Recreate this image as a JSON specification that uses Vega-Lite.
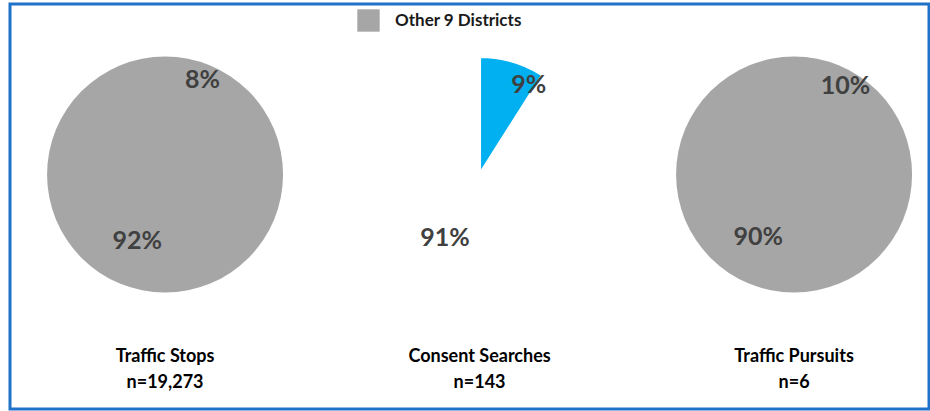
{
  "$schema": "https://vega.github.io/schema/vega-lite/v6.json",
  "width": 919,
  "height": 405,
  "autosize": {"type": "none"},
  "padding": {"left": 10, "top": 4, "right": 1, "bottom": 2},
  "background": "white",
  "config": {
    "view": {"stroke": "#1e72c8", "strokeWidth": 3},
    "font": "Lato"
  },
  "datasets": {
    "others": [
      {"panel": 1, "cat": "Other 9 Districts", "share": 92},
      {"panel": 2, "cat": "Other 9 Districts", "share": 91},
      {"panel": 3, "cat": "Other 9 Districts", "share": 90}
    ],
    "focus": [
      {"panel": 1, "cat": "Traffic Stops", "start": 0, "share": 8},
      {"panel": 2, "cat": "Consent Searches", "start": 0, "share": 9},
      {"panel": 3, "cat": "Traffic Pursuits", "start": 0, "share": 10}
    ],
    "small": [
      {"panel": 1, "label": "8%", "angle": 6.0},
      {"panel": 2, "label": "9%", "angle": 8.0},
      {"panel": 3, "label": "10%", "angle": 8.4}
    ],
    "big": [
      {"panel": 1, "label": "92%", "angle": 56.3},
      {"panel": 2, "label": "91%", "angle": 58.0},
      {"panel": 3, "label": "90%", "angle": 58.3}
    ],
    "titles": [
      {"panel": 1, "title": ["Traffic Stops", "n=19,273"]},
      {"panel": 2, "title": ["Consent Searches", "n=143"]},
      {"panel": 3, "title": ["Traffic Pursuits", "n=6"]}
    ]
  },
  "encoding": {
    "x": {"field": "panel", "type": "quantitative", "scale": {"domain": [0.507, 3.429], "nice": false, "zero": false}, "axis": null},
    "y": {"datum": 0, "type": "quantitative", "scale": {"domain": [-1.375, 1], "nice": false, "zero": false}, "axis": null}
  },
  "layer": [
    {
      "data": {"name": "others"},
      "mark": {"type": "arc", "outerRadius": 118},
      "encoding": {
        "color": {
          "field": "cat", "type": "nominal",
          "scale": {"domain": ["Other 9 Districts", "Traffic Stops", "Consent Searches", "Traffic Pursuits"], "range": ["#a6a6a6", "#ffff00", "#00b0f0", "#ae7cdc"]},
          "legend": {
            "values": ["Other 9 Districts"], "title": null, "orient": "none", "legendX": 347, "legendY": 5,
            "padding": 0, "symbolType": "square", "symbolSize": 500, "symbolStrokeWidth": 0, "symbolOpacity": 1,
            "labelFont": "Lato", "labelFontWeight": "bold", "labelFontSize": 17, "labelColor": "#1a1a1a", "labelOffset": 15
          }
        }
      }
    },
    {
      "data": {"name": "focus"},
      "mark": {"type": "arc", "outerRadius": 118, "stroke": "white", "strokeWidth": 3},
      "encoding": {
        "theta": {"field": "start", "type": "quantitative", "stack": null, "scale": {"domain": [0, 100], "range": [0, 6.283185307]}},
        "theta2": {"field": "share"},
        "color": {"field": "cat", "type": "nominal"}
      }
    },
    {
      "data": {"name": "small"},
      "mark": {"type": "text", "radius": 102, "fontSize": 25, "fontWeight": "bold", "color": "#404040", "align": "center", "baseline": "middle"},
      "encoding": {
        "theta": {"field": "angle", "type": "quantitative", "stack": null},
        "text": {"field": "label"}
      }
    },
    {
      "data": {"name": "big"},
      "mark": {"type": "text", "radius": 72, "fontSize": 25, "fontWeight": "bold", "color": "#404040", "align": "center", "baseline": "middle"},
      "encoding": {
        "theta": {"field": "angle", "type": "quantitative", "stack": null},
        "text": {"field": "label"}
      }
    },
    {
      "data": {"name": "titles"},
      "mark": {"type": "text", "fontSize": 18, "fontWeight": "bold", "color": "#000000", "align": "center", "baseline": "middle", "lineHeight": 26},
      "encoding": {
        "y": {"datum": -1.07, "type": "quantitative"},
        "text": {"field": "title"}
      }
    }
  ]
}
